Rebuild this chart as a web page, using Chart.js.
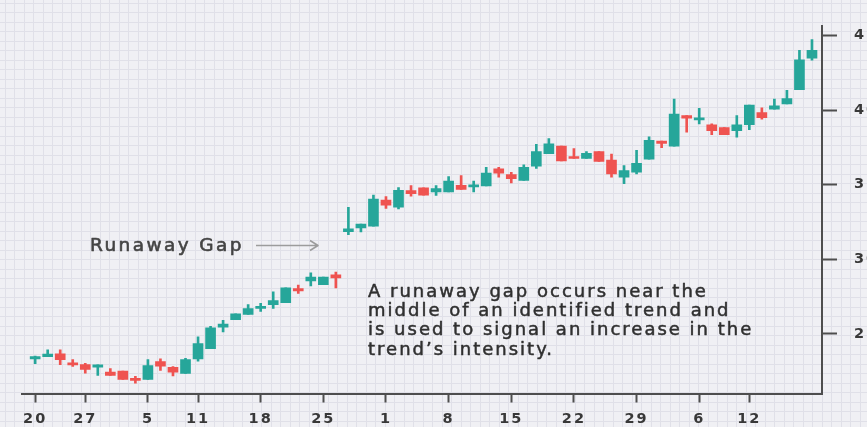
<!DOCTYPE html>
<html>
<head>
<meta charset="utf-8">
<script src="https://cdn.jsdelivr.net/npm/chart.js@4.4.1/dist/chart.umd.min.js"></script>
<style>
  html, body { margin: 0; padding: 0; background: #efeff4; overflow: hidden; }
  #wrap { position: relative; width: 867px; height: 427px; }
</style>
</head>
<body>
<div id="wrap"><canvas id="chart" width="867" height="427"></canvas></div>
<script>
// Daily OHLC sessions, oldest first
const openPrices  = [23.31,23.46,23.66,23.02,22.94,22.76,22.43,22.50,22.02,21.95,23.14,22.76,22.35,23.31,24.01,25.44,25.95,26.30,26.71,26.96,27.09,28.03,28.54,28.29,28.95,31.85,32.10,32.21,33.96,33.48,34.60,34.78,34.51,34.51,34.95,34.84,34.91,36.05,35.67,35.28,36.23,37.08,37.58,36.84,36.75,37.21,36.64,35.50,35.83,36.71,37.91,37.58,39.63,39.34,39.01,38.83,38.62,39.01,39.82,40.05,40.40,41.36,43.47];
const closePrices = [23.48,23.64,23.27,22.92,22.61,22.92,22.21,21.95,21.88,22.87,22.83,22.43,23.27,24.34,25.40,25.66,26.34,26.69,26.82,27.22,28.08,27.88,28.80,28.80,28.74,32.03,32.36,34.03,33.63,34.62,34.40,34.29,34.73,35.24,34.68,34.99,35.78,35.76,35.39,36.16,37.21,37.74,36.59,36.75,37.10,36.56,35.72,35.94,36.42,37.96,37.76,39.72,39.45,39.45,38.62,38.35,39.01,40.33,39.49,40.28,40.77,43.36,44.00];
const highPrices  = [23.50,23.93,23.93,23.27,23.02,22.92,22.67,22.50,22.15,23.27,23.33,22.81,23.35,24.80,25.51,25.90,26.34,26.96,27.04,27.81,28.08,28.27,29.08,28.80,29.13,33.48,32.36,34.29,34.20,34.80,34.93,34.78,34.93,35.54,35.61,35.24,36.16,36.16,35.83,36.33,37.70,38.09,37.58,37.41,37.21,37.21,37.04,36.27,37.30,38.20,37.91,40.73,39.63,40.11,39.08,38.83,39.63,40.33,40.15,40.73,41.32,44.00,44.72];
const lowPrices   = [23.00,23.46,22.94,22.81,22.36,22.21,22.21,21.95,21.69,21.95,22.54,22.17,22.35,23.16,24.01,25.13,25.95,26.30,26.50,26.71,27.09,27.70,28.21,28.29,28.08,31.65,31.83,32.21,33.41,33.37,34.22,34.29,34.27,34.51,34.68,34.51,34.91,35.50,35.11,35.28,36.09,37.08,36.59,36.75,36.75,36.56,35.50,35.06,35.72,36.71,37.48,37.58,38.52,39.06,38.35,38.35,38.18,38.68,39.39,40.05,40.40,41.36,43.34];

// Date labels and the session each one sits under
const dateTickSessions = [0, 4, 9, 13, 18, 23, 28, 33, 38, 43, 48, 53, 57];
const dateTickLabels   = ['20','27','5','11','18','25','1','8','15','22','29','6','12'];
const priceTicks       = [25, 30, 35, 40, 45];

const UP = '#26a69a';
const DOWN = '#ef5350';
const AXIS = '#4e4e4e';

const sessions = openPrices.map((_, i) => i);
const candleColors = sessions.map(i => closePrices[i] >= openPrices[i] ? UP : DOWN);

const wickData = sessions.map(i => ({ x: i, y: [lowPrices[i], highPrices[i]] }));
const bodyData = sessions.map(i => ({ x: i, y: [openPrices[i], closePrices[i]] }));

// Paper-style background with a fine grid
const paperGrid = {
  id: 'paperGrid',
  beforeDraw(chart) {
    const { ctx, width, height } = chart;
    ctx.save();
    ctx.fillStyle = '#f0f0f4';
    ctx.fillRect(0, 0, width, height);
    ctx.strokeStyle = '#e0e0e8';
    ctx.lineWidth = 1;
    const step = 9.5;
    ctx.beginPath();
    for (let x = 4.5; x < width; x += step) {
      const px = Math.round(x) + 0.5;
      ctx.moveTo(px, 0); ctx.lineTo(px, height);
    }
    for (let y = 2.5; y < height; y += step) {
      const py = Math.round(y) + 0.5;
      ctx.moveTo(0, py); ctx.lineTo(width, py);
    }
    ctx.stroke();
    ctx.restore();
    ctx.letterSpacing = '2px';
  }
};

// Medium-weight text: fill plus a hairline stroke in the same colour
function heavyText(ctx, text, x, y, weight) {
  ctx.fillText(text, x, y);
  ctx.lineWidth = weight;
  ctx.strokeText(text, x, y);
}

// Callout text and arrow
const callout = {
  id: 'callout',
  afterDraw(chart) {
    const ctx = chart.ctx;
    ctx.save();
    ctx.textBaseline = 'middle';
    ctx.textAlign = 'left';
    ctx.lineJoin = 'round';

    ctx.letterSpacing = '2.4px';
    ctx.font = '18.5px "DejaVu Sans"';
    ctx.fillStyle = '#444444';
    ctx.strokeStyle = '#444444';
    heavyText(ctx, 'Runaway Gap', 90, 246, 0.6);

    ctx.strokeStyle = '#9c9c9c';
    ctx.lineWidth = 1.5;
    ctx.beginPath();
    ctx.moveTo(256, 245.5); ctx.lineTo(318, 245.5);
    ctx.moveTo(310, 240.5); ctx.lineTo(318, 245.5); ctx.lineTo(310, 250.5);
    ctx.stroke();

    ctx.letterSpacing = '2px';
    ctx.font = '18px "DejaVu Sans"';
    ctx.fillStyle = '#303030';
    ctx.strokeStyle = '#303030';
    const lines = [
      'A runaway gap occurs near the',
      'middle of an identified trend and',
      'is used to signal an increase in the',
      'trend\u2019s intensity.'
    ];
    lines.forEach((t, k) => heavyText(ctx, t, 368, 292 + k * 19.4, 0.5));
    ctx.restore();
  }
};

new Chart(document.getElementById('chart'), {
  type: 'bar',
  data: {
    datasets: [
      {
        label: 'Range',
        data: wickData,
        backgroundColor: candleColors,
        barThickness: 2,
        grouped: false,
        order: 2
      },
      {
        label: 'Body',
        data: bodyData,
        backgroundColor: candleColors,
        barThickness: 10,
        minBarLength: 2,
        grouped: false,
        order: 1
      }
    ]
  },
  options: {
    responsive: false,
    animation: false,
    devicePixelRatio: 1,
    layout: { padding: { top: 19, left: 22, right: 0, bottom: 0 } },
    plugins: { legend: { display: false }, tooltip: { enabled: false } },
    scales: {
      x: {
        type: 'linear',
        position: 'bottom',
        min: -1.05,
        max: 62.8,
        offset: false,
        afterBuildTicks(scale) {
          scale.ticks = dateTickSessions.map(v => ({ value: v }));
        },
        afterFit(scale) { scale.height = 33.5; },
        ticks: {
          autoSkip: false,
          maxRotation: 0,
          padding: 8,
          color: '#383838',
          font: { family: 'DejaVu Sans', size: 14.5, weight: 'bold' },
          callback(value) {
            const k = dateTickSessions.indexOf(value);
            return k >= 0 ? dateTickLabels[k] : '';
          }
        },
        grid: {
          drawOnChartArea: false,
          drawTicks: true,
          tickLength: 9,
          tickWidth: 2,
          tickColor: AXIS,
          offset: false
        },
        border: { display: true, color: AXIS, width: 2 }
      },
      y: {
        type: 'linear',
        position: 'right',
        min: 21,
        max: 45.65,
        afterBuildTicks(scale) {
          scale.ticks = priceTicks.map(v => ({ value: v }));
        },
        afterFit(scale) { scale.width = 45; },
        ticks: {
          padding: 17,
          color: '#383838',
          font: { family: 'DejaVu Sans', size: 14.5, weight: 'bold' }
        },
        grid: {
          drawOnChartArea: false,
          drawTicks: true,
          tickLength: 15,
          tickWidth: 2,
          tickColor: AXIS
        },
        border: { display: true, color: AXIS, width: 2 }
      }
    }
  },
  plugins: [paperGrid, callout]
});
</script>
</body>
</html>
